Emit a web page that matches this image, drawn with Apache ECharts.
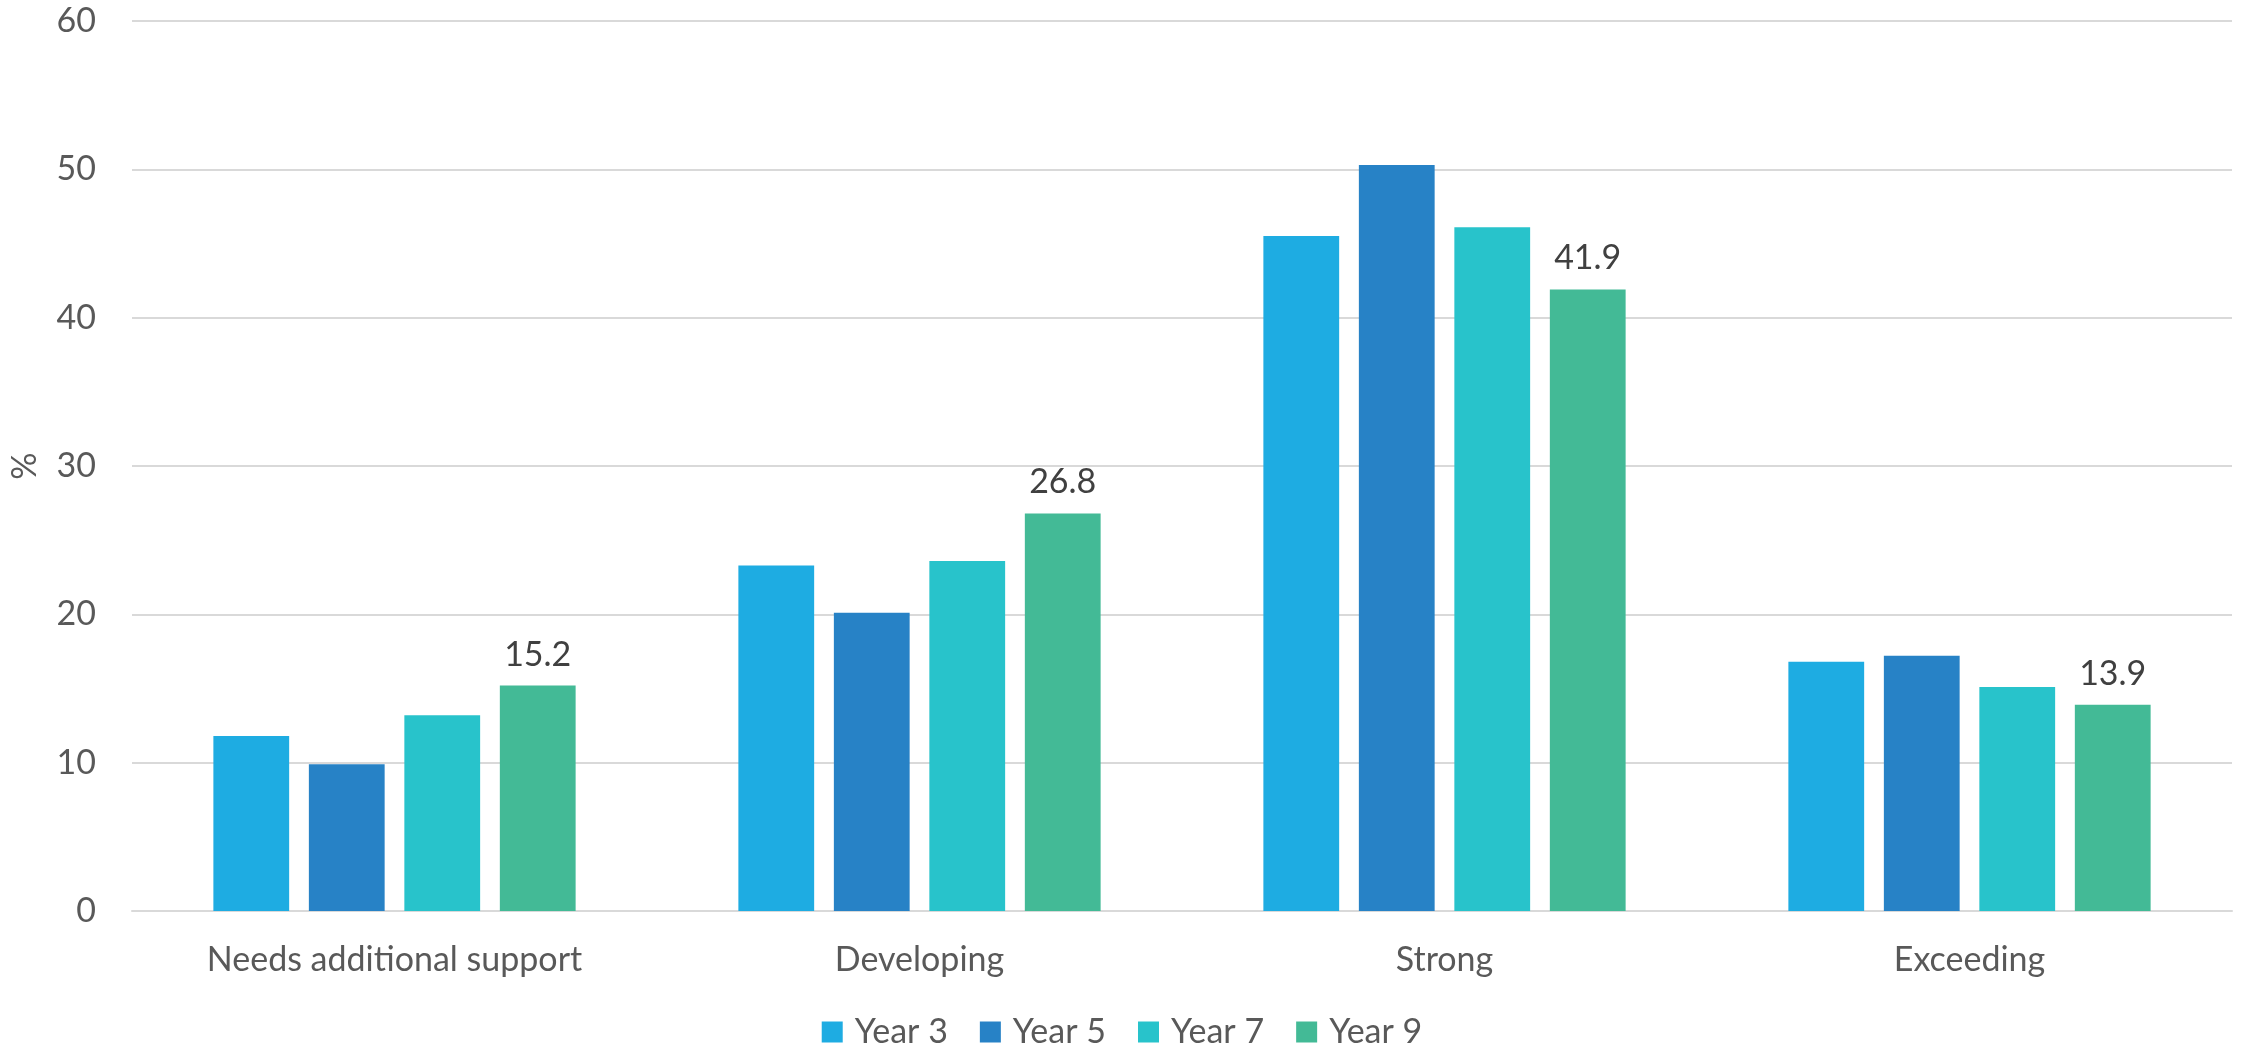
<!DOCTYPE html>
<html>
<head>
<meta charset="utf-8">
<script src="https://cdn.jsdelivr.net/npm/echarts@6/dist/echarts.min.js"></script>
<style>html,body{margin:0;padding:0;background:#fff}#chart{width:2244px;height:1047px}</style>
</head>
<body>
<div id="chart"></div>
<script>
const categories = ['Needs additional support', 'Developing', 'Strong', 'Exceeding'];
const seriesNames = ['Year 3', 'Year 5', 'Year 7', 'Year 9'];
const year3 = [11.8, 23.3, 45.5, 16.8];
const year5 = [9.9, 20.1, 50.3, 17.2];
const year7 = [13.2, 23.6, 46.1, 15.1];
const year9 = [15.2, 26.8, 41.9, 13.9];
const yTicks = [0, 10, 20, 30, 40, 50, 60];
const colors = ['#1EACE2', '#2782C6', '#28C3CB', '#43BA96'];
const labelledSeries = 'Year 9';

const FONT = 'Lato, "Open Sans", sans-serif';
const values = [year3, year5, year7, year9];
const chart = echarts.init(document.getElementById('chart'), null, {renderer: 'canvas'});
chart.setOption({
  animation: false,
  color: colors,
  textStyle: {fontFamily: FONT},
  grid: {left: 132, right: 12, top: 21, bottom: 136, containLabel: false},
  legend: {
    data: seriesNames,
    top: 1010,
    left: 'center',
    icon: 'rect',
    itemWidth: 21,
    itemHeight: 21,
    itemGap: 32,
    textStyle: {fontFamily: FONT, fontSize: 34, color: '#595959', padding: [0, 0, 0, 7]}
  },
  xAxis: {
    type: 'category',
    data: categories,
    axisLine: {show: true, lineStyle: {color: '#D9D9D9', width: 2}},
    axisTick: {show: false},
    axisLabel: {fontFamily: FONT, fontSize: 34, color: '#595959', margin: 32}
  },
  yAxis: {
    type: 'value',
    min: yTicks[0],
    max: yTicks[yTicks.length - 1],
    interval: yTicks[1] - yTicks[0],
    name: '%',
    nameLocation: 'middle',
    nameGap: 90,
    nameRotate: 90,
    nameTextStyle: {fontFamily: FONT, fontSize: 34, color: '#595959'},
    axisLine: {show: false},
    axisTick: {show: false},
    splitLine: {lineStyle: {color: '#D9D9D9', width: 2}},
    axisLabel: {fontFamily: FONT, fontSize: 34, color: '#595959', margin: 36}
  },
  series: seriesNames.map((name, i) => ({
    name: name,
    type: 'bar',
    data: values[i],
    barGap: '26%',
    barCategoryGap: '31%',
    label: {
      show: name === labelledSeries,
      position: 'top',
      distance: 14,
      fontFamily: FONT,
      fontSize: 34,
      color: '#404040',
      formatter: p => p.value.toFixed(1)
    }
  }))
});
</script>
</body>
</html>
